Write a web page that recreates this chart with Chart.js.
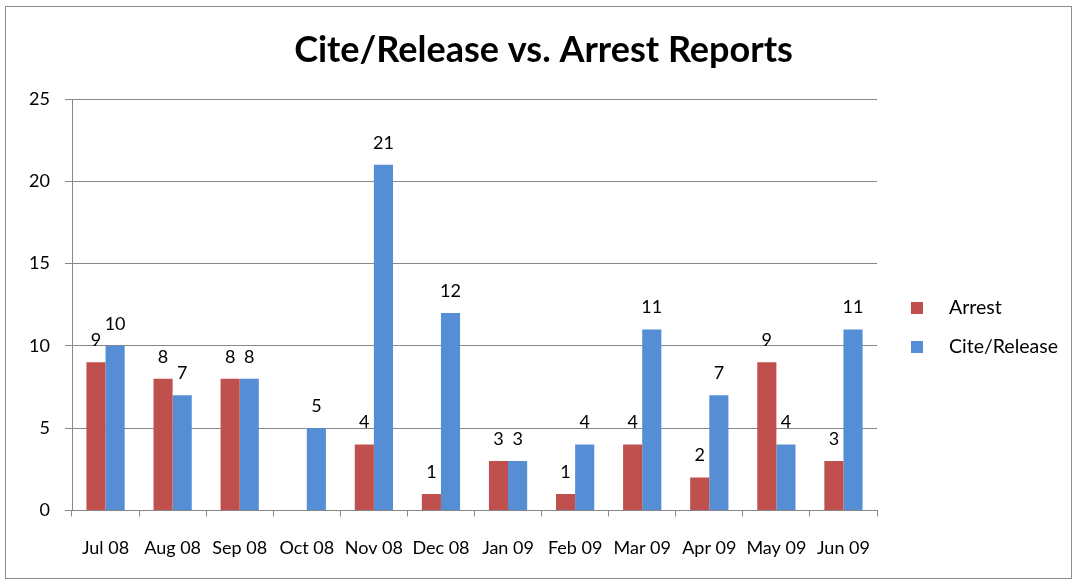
<!DOCTYPE html>
<html lang="en">
  <head>
    <meta charset="UTF-8" />
    <title>Cite/Release vs. Arrest Reports</title>
    <script src="https://cdn.jsdelivr.net/npm/chart.js"></script>
    <style>
      html, body {
        margin: 0;
        padding: 0;
        background: #ffffff;
      }
      .chart-box {
        position: relative;
        width: 1075px;
        height: 581px;
      }
    </style>
  </head>
  <body>
    <div class="chart-box">
      <canvas id="reportChart"></canvas>
    </div>

    <script>
      // Monthly report counts
      const months = ["Jul 08", "Aug 08", "Sep 08", "Oct 08", "Nov 08", "Dec 08",
                      "Jan 09", "Feb 09", "Mar 09", "Apr 09", "May 09", "Jun 09"];
      const arrestCounts = [9, 8, 8, null, 4, 1, 3, 1, 4, 2, 9, 3];
      const citeCounts = [10, 7, 8, 5, 21, 12, 3, 4, 11, 7, 4, 11];
      const yTicks = [0, 5, 10, 15, 20, 25];
      const chartTitle = "Cite/Release vs. Arrest Reports";

      const fontFamily = "Lato, 'Open Sans', sans-serif";
      const gridGray = "#878787";

      // Outer frame and the title, centred on the whole picture
      const framePlugin = {
        id: "frame",
        beforeDraw(chart) {
          const c = chart.ctx;
          c.save();
          c.strokeStyle = "#8c8c8c";
          c.lineWidth = 1;
          c.strokeRect(5.5, 6.5, 1066, 572);
          c.font = "bold 36px " + fontFamily;
          c.fillStyle = "#000";
          c.textAlign = "center";
          c.textBaseline = "middle";
          c.fillText(chartTitle, chart.width / 2 + 6, 50);
          c.restore();
        }
      };

      // Value labels above each bar
      const valueLabels = {
        id: "valueLabels",
        afterDatasetsDraw(chart) {
          const c = chart.ctx;
          c.save();
          c.font = "18px " + fontFamily;
          c.fillStyle = "#000";
          c.textAlign = "center";
          c.textBaseline = "middle";
          chart.data.datasets.forEach((ds, i) => {
            chart.getDatasetMeta(i).data.forEach((bar, j) => {
              const v = ds.data[j];
              if (v == null) return;
              c.fillText(String(v), bar.x, bar.y - 22);
            });
          });
          c.restore();
        }
      };

      // Legend on the right, Excel style (small square, wide gap)
      const sideLegend = {
        id: "sideLegend",
        afterDraw(chart) {
          const c = chart.ctx;
          const left = chart.chartArea.right + 34;
          const top = 308;
          c.save();
          c.font = "19.5px " + fontFamily;
          c.textBaseline = "middle";
          chart.data.datasets.forEach((ds, i) => {
            const y = top + i * 39;
            c.fillStyle = ds.backgroundColor;
            c.fillRect(left, y - 6, 12, 12);
            c.fillStyle = "#000";
            c.fillText(ds.label, left + 38, y);
          });
          c.restore();
        }
      };

      new Chart(document.getElementById("reportChart"), {
        type: "bar",
        data: {
          labels: months,
          datasets: [
            {
              label: "Arrest",
              data: arrestCounts,
              backgroundColor: "#c0504d",
              barPercentage: 1,
              categoryPercentage: 0.57
            },
            {
              label: "Cite/Release",
              data: citeCounts,
              backgroundColor: "#558ed5",
              barPercentage: 1,
              categoryPercentage: 0.57
            }
          ]
        },
        options: {
          responsive: true,
          maintainAspectRatio: false,
          animation: false,
          layout: {
            padding: { left: 0, right: 198, top: 99, bottom: 1 }
          },
          scales: {
            x: {
              grid: {
                drawOnChartArea: false,
                drawTicks: true,
                tickLength: 6,
                color: gridGray
              },
              border: { color: gridGray },
              ticks: {
                color: "#000",
                padding: 21,
                font: { family: fontFamily, size: 18 }
              }
            },
            y: {
              min: 0,
              max: 25,
              afterFit(scale) {
                scale.width = 72;
              },
              afterBuildTicks(scale) {
                scale.ticks = yTicks.map(v => ({ value: v }));
              },
              grid: {
                color: gridGray,
                tickLength: 7
              },
              border: { color: gridGray },
              ticks: {
                color: "#000",
                padding: 15,
                font: { family: fontFamily, size: 18 }
              }
            }
          },
          plugins: {
            legend: { display: false },
            tooltip: { enabled: false },
            title: { display: false }
          }
        },
        plugins: [framePlugin, valueLabels, sideLegend]
      });
    </script>
  </body>
</html>
